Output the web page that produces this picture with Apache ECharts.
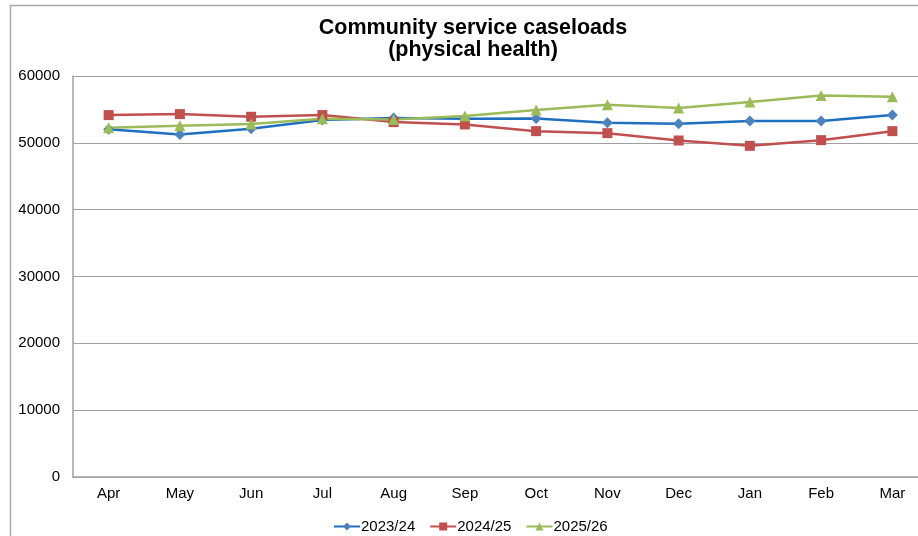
<!DOCTYPE html>
<html>
<head>
<meta charset="utf-8">
<script src="https://cdn.jsdelivr.net/npm/echarts@6/dist/echarts.min.js"></script>
<style>
html,body{margin:0;padding:0;background:#fff;}
#c{width:918px;height:536px;}
</style>
</head>
<body>
<div id="c"></div>
<script>
const months = ['Apr','May','Jun','Jul','Aug','Sep','Oct','Nov','Dec','Jan','Feb','Mar'];
const s2023 = [52050,51250,52100,53400,53700,53600,53650,53000,52850,53250,53250,54150];
const s2024 = [54150,54300,53900,54150,53100,52750,51750,51450,50350,49550,50400,51750];
const s2025 = [52250,52550,52800,53600,53500,54000,54900,55700,55200,56100,57100,56900];
const yTicks = {min:0, max:60000, interval:10000};
const font = 'Arial, "Liberation Sans", sans-serif';

const chart = echarts.init(document.getElementById('c'), null, {renderer:'canvas'});
chart.setOption({
  animation:false,
  backgroundColor:'#fff',
  graphic:[{type:'rect', shape:{x:10.5,y:5.5,width:1000,height:1000}, style:{fill:'none',stroke:'#a6a6a6',lineWidth:1.5}, silent:true}],
  title:{
    text:'Community service caseloads\n(physical health)',
    left:468, top:12, textAlign:'center',
    textStyle:{fontFamily:font,fontSize:21.5,fontWeight:'bold',color:'#000',lineHeight:22}
  },
  legend:{
    left:328, top:514,
    itemWidth:26, itemHeight:10, itemGap:14,
    textStyle:{fontFamily:font,fontSize:15,color:'#000',padding:[0,0,0,-4]},
    data:['2023/24','2024/25','2025/26']
  },
  grid:{left:73, top:76, width:855, bottom:59, containLabel:false, outerBoundsMode:'none'},
  xAxis:{
    type:'category', data:months, boundaryGap:true,
    axisLine:{show:true,lineStyle:{color:'#a0a0a0',width:1.5}},
    axisTick:{show:false},
    axisLabel:{fontFamily:font,fontSize:15,color:'#000',margin:9}
  },
  yAxis:{
    type:'value', min:yTicks.min, max:yTicks.max, interval:yTicks.interval,
    axisLine:{show:true,lineStyle:{color:'#a0a0a0',width:1.5}},
    axisTick:{show:false},
    splitLine:{lineStyle:{color:'#a0a0a0',width:1.2}},
    axisLabel:{fontFamily:font,fontSize:15,color:'#000',margin:13,formatter:v=>String(v)}
  },
  series:[
    {name:'2023/24',type:'line',data:s2023,symbol:'diamond',symbolSize:11,
     lineStyle:{color:'#1f6fc1',width:2.5},itemStyle:{color:'#4f81bd'},color:'#4f81bd'},
    {name:'2024/25',type:'line',data:s2024,symbol:'rect',symbolSize:10,
     lineStyle:{color:'#c0504d',width:2.5},itemStyle:{color:'#c0504d'},color:'#c0504d'},
    {name:'2025/26',type:'line',data:s2025,symbol:'triangle',symbolSize:11,
     lineStyle:{color:'#9bbb59',width:2.5},itemStyle:{color:'#9bbb59'},color:'#9bbb59'}
  ]
});
</script>
</body>
</html>
